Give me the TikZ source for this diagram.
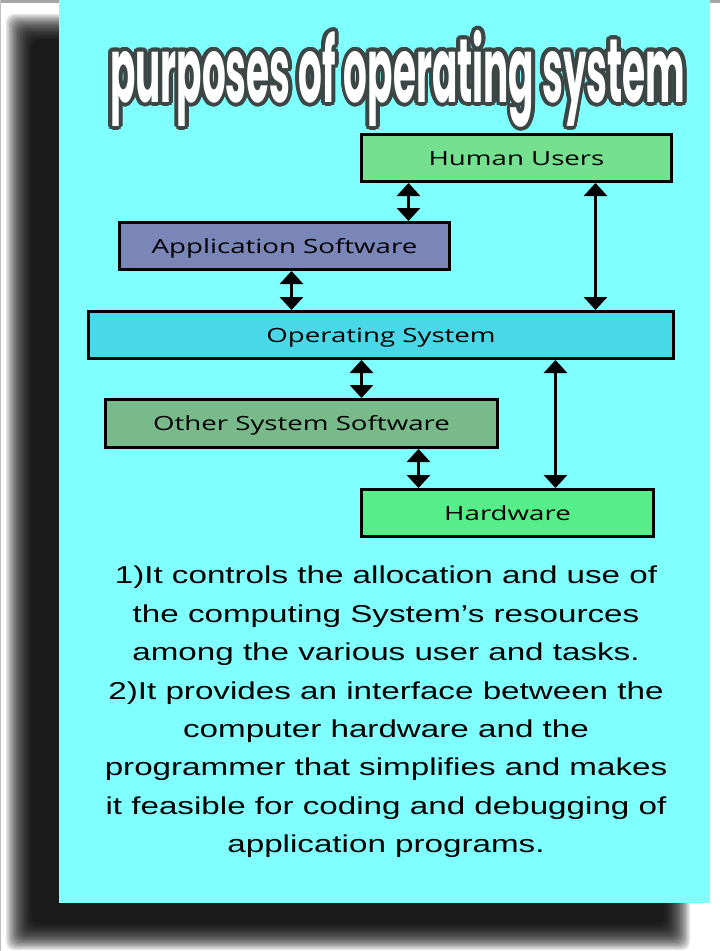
\documentclass[tikz,border=0pt]{standalone}
\usepackage{fontspec}
\setmainfont{Liberation Sans}[FakeStretch=1.36]
\newfontfamily\boxfont{Open Sans}[FakeStretch=1.41]
\newfontfamily\titlefont{Poppins}
\usepackage{tikz}
\usetikzlibrary{arrows.meta,positioning}
\definecolor{sheetcyan}{HTML}{80FFFF}
\definecolor{usergreen}{HTML}{75E08F}
\definecolor{appblue}{HTML}{7A86B8}
\definecolor{oscyan}{HTML}{48D8E8}
\definecolor{othergreen}{HTML}{78BA8A}
\definecolor{hwgreen}{HTML}{55EE88}
\definecolor{titleline}{HTML}{3B4645}
\tikzset{
  layerbox/.style={draw=black,line width=3pt,inner sep=0pt,text height=14pt,text depth=0pt,
    font=\boxfont\fontsize{19.6}{20}\selectfont,text=black},
  dblarrow/.style={{Triangle[width=23pt,length=13pt]}-{Triangle[width=23pt,length=13pt]},line width=3.5pt,black},
  titlepart/.style={anchor=north west,inner sep=0pt},
  bodytext/.style={align=center,inner sep=0pt,anchor=north,font=\fontsize{24.4}{38.4}\selectfont},
}
\newcommand{\titlewords}{\resizebox*{575pt}{97pt}{\titlefont\bfseries purposes of operating system}}

\begin{document}
\begin{tikzpicture}[x=1pt,y=-1pt]
  \useasboundingbox (0,0) rectangle (720,951);
  \fill[white] (0,0) rectangle (720,951);
  \fill[gray!70] (0,0) rectangle (720,2.5);
  \fill[gray!50] (0,0) rectangle (1,951);
  % soft shadow
  \foreach \k in {0,...,19}
    \fill[black,opacity=0.1,rounded corners=8pt] (6+1.4*\k,14+1.4*\k) rectangle (690-1.4*\k,950-1.4*\k);
  \fill[sheetcyan] (59,0) rectangle (710,903);

  % title with outline
  \foreach \a in {0,22.5,...,337.5}
    \node[titlepart,text=titleline,shift={(\a:3.8)}] at (110,30) {\titlewords};
  \node[titlepart,text=white] (title) at (110,30) {\titlewords};

  % layers
  \node[layerbox,fill=usergreen,minimum width=310pt,minimum height=47pt] (hu) at (516.5,158) {Human Users};
  \node[layerbox,fill=appblue,minimum width=330pt,minimum height=47pt] (app) at (284.5,246) {Application Software};
  \node[layerbox,fill=oscyan,minimum width=585pt,minimum height=47pt] (os) at (381,335) {Operating System};
  \node[layerbox,fill=othergreen,minimum width=392pt,minimum height=48pt] (oss) at (301.5,423.5) {Other System Software};
  \node[layerbox,fill=hwgreen,minimum width=292pt,minimum height=47pt] (hw) at (507.5,513) {Hardware};

  \draw[dblarrow] ([xshift=48.5pt]hu.south west) -- ([xshift=48.5pt]hu.south west |- app.north);
  \draw[dblarrow] ([xshift=173.5pt]app.south west) -- ([xshift=173.5pt]app.south west |- os.north);
  \draw[dblarrow] ([xshift=-77.5pt]hu.south east) -- ([xshift=-77.5pt]hu.south east |- os.north);
  \draw[dblarrow] ([xshift=257.5pt]oss.north west |- os.south) -- ([xshift=257.5pt]oss.north west);
  \draw[dblarrow] ([xshift=195.5pt]hw.north west |- os.south) -- ([xshift=195.5pt]hw.north west);
  \draw[dblarrow] ([xshift=58.5pt]hw.north west |- oss.south) -- ([xshift=58.5pt]hw.north west);

  \node[bodytext] (notes) at (386,566) {1)It controls the allocation and use of\\
    the computing System’s resources\\
    among the various user and tasks.\\
    2)It provides an interface between the\\
    computer hardware and the\\
    programmer that simplifies and makes\\
    it feasible for coding and debugging of\\
    application programs.};
\end{tikzpicture}
\end{document}
